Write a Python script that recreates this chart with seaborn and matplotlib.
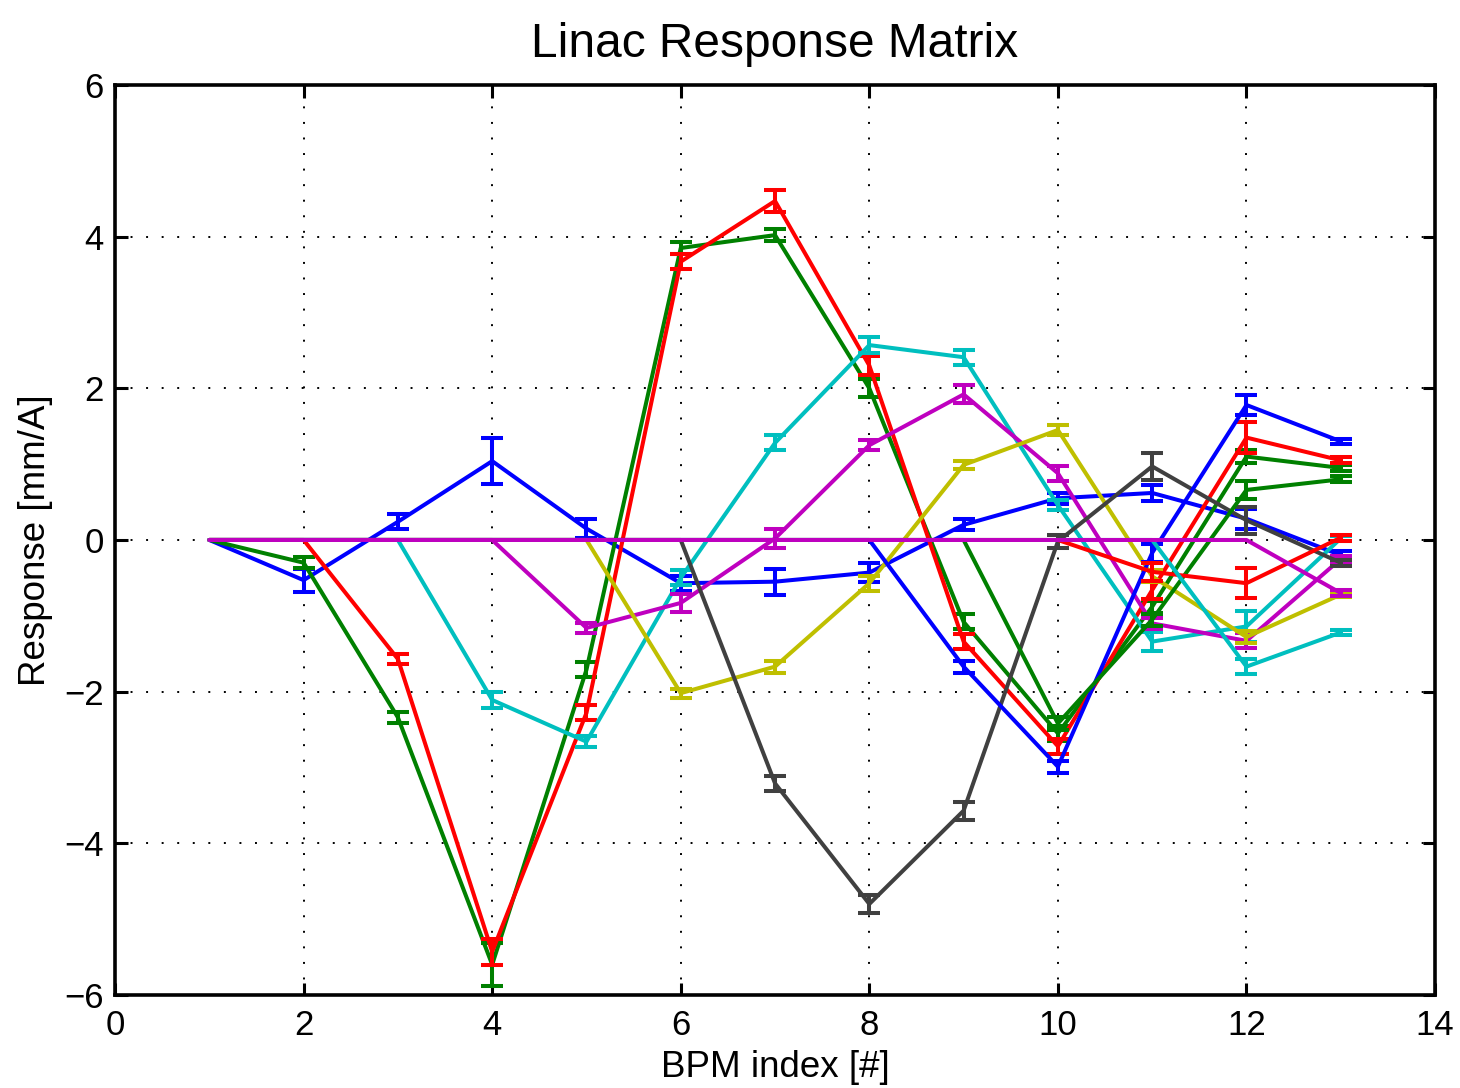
import numpy as np
import pandas as pd
import matplotlib
matplotlib.use("Agg")
import matplotlib.pyplot as plt
import seaborn as sns

# BPM indices
bpm = list(range(1, 14))

# Orbit response of each corrector at the 13 BPMs [mm/A] with measurement errors
blue1 = [0, -0.53, 0.24, 1.04, 0.15, -0.57, -0.55, -0.43, 0.20, 0.55, 0.62, 0.28, -0.20]
blue1_err = [0, 0.15, 0.10, 0.30, 0.13, 0.10, 0.17, 0.13, 0.07, 0.07, 0.10, 0.13, 0.05]

green1 = [0, -0.30, -2.34, -5.60, -1.71, 3.85, 4.02, 2.00, -1.08, -2.55, -0.88, 1.10, 0.95]
green1_err = [0, 0.07, 0.07, 0.28, 0.10, 0.08, 0.08, 0.12, 0.10, 0.10, 0.08, 0.08, 0.04]

red1 = [0, 0, -1.57, -5.43, -2.28, 3.67, 4.47, 2.30, -1.34, -2.72, -0.66, 1.35, 1.05]
red1_err = [0, 0, 0.07, 0.17, 0.10, 0.10, 0.15, 0.12, 0.10, 0.10, 0.12, 0.20, 0.04]

cyan1 = [0, 0, 0, -2.11, -2.66, -0.50, 1.28, 2.57, 2.41, 0.46, -1.34, -1.14, 0.02]
cyan1_err = [0, 0, 0, 0.10, 0.07, 0.10, 0.10, 0.10, 0.10, 0.07, 0.13, 0.20, 0.03]

magenta1 = [0, 0, 0, 0, -1.16, -0.83, 0.02, 1.25, 1.92, 0.88, -1.10, -1.33, -0.25]
magenta1_err = [0, 0, 0, 0, 0.07, 0.12, 0.12, 0.07, 0.12, 0.10, 0.07, 0.10, 0.04]

yellow1 = [0, 0, 0, 0, 0, -2.02, -1.67, -0.57, 0.99, 1.45, -0.48, -1.28, -0.72]
yellow1_err = [0, 0, 0, 0, 0, 0.06, 0.08, 0.10, 0.05, 0.06, 0.08, 0.08, 0.03]

gray1 = [0, 0, 0, 0, 0, 0, -3.21, -4.80, -3.57, -0.02, 0.97, 0.26, -0.30]
gray1_err = [0, 0, 0, 0, 0, 0, 0.10, 0.12, 0.12, 0.08, 0.18, 0.18, 0.04]

blue2 = [0, 0, 0, 0, 0, 0, 0, 0, -1.67, -2.99, -0.17, 1.78, 1.30]
blue2_err = [0, 0, 0, 0, 0, 0, 0, 0, 0.08, 0.08, 0.12, 0.13, 0.03]

green2 = [0, 0, 0, 0, 0, 0, 0, 0, 0, -2.42, -1.05, 0.66, 0.80]
green2_err = [0, 0, 0, 0, 0, 0, 0, 0, 0, 0.08, 0.08, 0.12, 0.04]

red2 = [0, 0, 0, 0, 0, 0, 0, 0, 0, 0, -0.42, -0.57, 0.03]
red2_err = [0, 0, 0, 0, 0, 0, 0, 0, 0, 0, 0.12, 0.20, 0.04]

cyan2 = [0, 0, 0, 0, 0, 0, 0, 0, 0, 0, 0, -1.67, -1.22]
cyan2_err = [0, 0, 0, 0, 0, 0, 0, 0, 0, 0, 0, 0.10, 0.03]

magenta2 = [0, 0, 0, 0, 0, 0, 0, 0, 0, 0, 0, 0, -0.70]
magenta2_err = [0, 0, 0, 0, 0, 0, 0, 0, 0, 0, 0, 0, 0.04]

series = [blue1, green1, red1, cyan1, magenta1, yellow1, gray1,
          blue2, green2, red2, cyan2, magenta2]
errors = [blue1_err, green1_err, red1_err, cyan1_err, magenta1_err, yellow1_err, gray1_err,
          blue2_err, green2_err, red2_err, cyan2_err, magenta2_err]

# classic colour order, cycled
palette = [(0, 0, 1), (0, 0.5, 0), (1, 0, 0), (0, 0.75, 0.75),
           (0.75, 0, 0.75), (0.75, 0.75, 0), (0.25, 0.25, 0.25)]

x_ticks = [0, 2, 4, 6, 8, 10, 12, 14]
y_ticks = [-6, -4, -2, 0, 2, 4, 6]

LW = 2.9

sns.set_theme(style="white")
plt.rcParams['font.family'] = ['Liberation Sans', 'DejaVu Sans']
plt.rcParams['axes.unicode_minus'] = True
plt.rcParams['lines.linewidth'] = LW

fig = plt.figure(figsize=(14.6, 10.88), dpi=100)
ax = fig.add_axes([0.0788, 0.0855, 0.9041, 0.8364])

for i, (vals, errs) in enumerate(zip(series, errors)):
    color = palette[i % len(palette)]
    df = pd.DataFrame({"bpm": bpm, "resp": vals, "err": errs})
    sns.lineplot(data=df, x="bpm", y="resp", color=color, linewidth=LW,
                 ax=ax, zorder=3 + i, errorbar=None)
    ax.lines[-1].set_linewidth(LW)
    meas = df[df["err"] > 0]
    ax.errorbar(meas["bpm"], meas["resp"], yerr=meas["err"], fmt="none",
                ecolor=color, elinewidth=LW, capsize=8, capthick=LW,
                zorder=3 + i)

ax.set_xlim(0, 14)
ax.set_ylim(-6, 6)
ax.set_xticks(x_ticks)
ax.set_yticks(y_ticks)
ax.set_xticklabels([str(t) for t in x_ticks])
ax.set_yticklabels([str(t).replace("-", "\u2212") for t in y_ticks])

ax.grid(True, color="black", linestyle=(0, (1, 7)), linewidth=1.4)
ax.set_axisbelow(True)

for side in ["top", "bottom", "left", "right"]:
    ax.spines[side].set_visible(True)
    ax.spines[side].set_color("black")
    ax.spines[side].set_linewidth(2.6)
    ax.spines[side].set_zorder(50)

ax.tick_params(axis="both", which="major", direction="in", length=9, width=2.2,
               color="black", labelsize=25, labelcolor="black",
               top=True, right=True, bottom=True, left=True)
ax.tick_params(axis="x", pad=10)
ax.tick_params(axis="y", pad=8)

ax.set_title("Linac Response Matrix", fontsize=34.5, color="black", pad=20)
ax.set_xlabel("BPM index [#]", fontsize=26.5, color="black", labelpad=6)
ax.set_ylabel("Response [mm/A]", fontsize=26.5, color="black", labelpad=8)

fig.savefig("out.png", dpi=100, facecolor="white")
